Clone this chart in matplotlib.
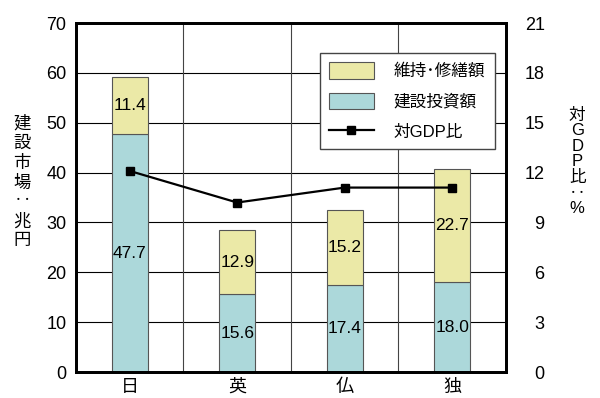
import matplotlib
matplotlib.use("Agg")
import matplotlib.pyplot as plt
import numpy as np

plt.rcParams['font.family'] = ['Liberation Sans', 'Noto Sans CJK JP']

countries = ['日', '英', '仏', '独']
investment = [47.7, 15.6, 17.4, 18.0]     # 建設投資額 (兆円)
maintenance = [11.4, 12.9, 15.2, 22.7]    # 維持・修繕額 (兆円)
gdp_ratio = [12.1, 10.2, 11.1, 11.1]      # 対GDP比 (%)
left_ticks = [0, 10, 20, 30, 40, 50, 60, 70]
right_ticks = [0, 3, 6, 9, 12, 15, 18, 21]

teal = '#acd8da'
yellow = '#ebe9a7'

fig = plt.figure(figsize=(6.0, 3.98), dpi=100)
ax = fig.add_axes([0.1267, 0.0653, 0.7163, 0.8767])
x = np.arange(len(countries))
w = 0.335

b1 = ax.bar(x, investment, w, color=teal, edgecolor='#555555', linewidth=0.8, zorder=2)
b2 = ax.bar(x, maintenance, w, bottom=investment, color=yellow,
            edgecolor='#555555', linewidth=0.8, zorder=2)

for i in range(len(x)):
    ax.text(x[i], investment[i] / 2, f'{investment[i]:.1f}', ha='center', va='center',
            fontsize=12.5, zorder=3)
    ax.text(x[i], investment[i] + maintenance[i] / 2, f'{maintenance[i]:.1f}',
            ha='center', va='center', fontsize=12.5, zorder=3)

ax.set_xlim(-0.5, 3.5)
ax.set_ylim(0, 70)
ax.set_yticks(left_ticks)
ax.set_xticks(x)
ax.set_xticklabels(countries, fontsize=13)
ax.tick_params(axis='y', length=0, pad=7, labelsize=13)
ax.tick_params(axis='x', length=0, pad=5)
for yv in left_ticks[1:-1]:
    ax.axhline(yv, color='black', lw=0.8, zorder=1)
for xv in [0.5, 1.5, 2.5]:
    ax.axvline(xv, color='#444444', lw=0.8, zorder=1)
for s in ax.spines.values():
    s.set_linewidth(2.0)

ax2 = ax.twinx()
ax2.set_ylim(0, 21)
ax2.set_yticks(right_ticks)
ax2.tick_params(axis='y', length=0, pad=28, labelsize=13)
for lab in ax2.get_yticklabels():
    lab.set_horizontalalignment('right')
line, = ax2.plot(x, gdp_ratio, color='black', lw=1.6, marker='s', markersize=5.5, zorder=4)
for s in ax2.spines.values():
    s.set_linewidth(2.0)

leg = ax2.legend([b2, b1, line], ['維持･修繕額', '建設投資額', '対GDP比'],
                 loc='upper left', bbox_to_anchor=(0.567, 0.914), borderaxespad=0,
                 fontsize=12, frameon=True, fancybox=False, edgecolor='#444444',
                 framealpha=1, handlelength=2.7, handleheight=1.15, borderpad=0.55,
                 labelspacing=0.8, handletextpad=1.2)
leg.get_frame().set_linewidth(1.0)

fig.text(0.037, 0.543, '建\n設\n市\n場\n‥\n兆\n円', ha='center', va='center',
         fontsize=12.5, linespacing=1.3)
fig.text(0.962, 0.593, '対\nG\nD\nP\n比\n‥\n%', ha='center', va='center',
         fontsize=12, linespacing=1.05)

fig.savefig('out.png', dpi=100)
